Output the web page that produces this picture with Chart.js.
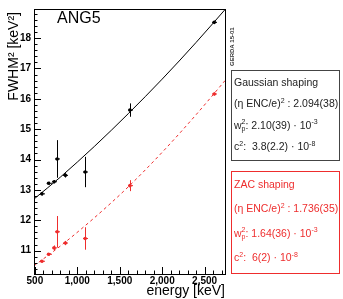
<!DOCTYPE html>
<html>
<head>
<meta charset="utf-8">
<script src="https://cdn.jsdelivr.net/npm/chart.js@4/dist/chart.umd.min.js"></script>
<style>
  html, body { margin: 0; padding: 0; background: #fff; }
  #wrap { position: relative; width: 343px; height: 299px; }
</style>
</head>
<body>
<div id="wrap"><canvas id="fwhmChart" width="343" height="299"></canvas></div>
<script>
// calibration lines (keV) and measured FWHM^2 (keV^2)
const energies = [583, 661, 727, 763, 860, 1093, 1620, 2614];
const gaussVals = [12.87, 13.22, 13.27, 14.02, 13.48, 13.59, 15.63, 18.52];
const gaussErr = [0.05, 0.05, 0.05, 0.62, 0.07, 0.5, 0.22, 0.05];
const zacVals = [10.65, 10.88, 11.09, 11.62, 11.25, 11.4, 13.14, 16.16];
const zacErr = [0.04, 0.04, 0.08, 0.52, 0.07, 0.37, 0.18, 0.05];

// fit curves
const fitE = [490, 800, 1200, 1600, 2000, 2400, 2740];
const gaussFit = [12.7, 13.42, 14.43, 15.51, 16.65, 17.86, 18.94];
const zacFit = [10.5, 11.15, 12.08, 13.1, 14.24, 15.48, 16.6];

const xTicks = [500, 1000, 1500, 2000, 2500];
const yTicks = [11, 12, 13, 14, 15, 16, 17, 18];

const RED = 'rgb(238,45,45)';
const FONT = '"Liberation Sans", Arial, sans-serif';

function pts(xs, ys) {
  return xs.map((x, i) => ({ x: x, y: ys[i] }));
}

// draw text with sup/sub pieces
function drawRuns(ctx, x, y, runs, size, color) {
  ctx.fillStyle = color;
  ctx.textBaseline = 'alphabetic';
  ctx.textAlign = 'left';
  runs.forEach(r => {
    if (!r.s) {
      ctx.font = size + 'px ' + FONT;
      ctx.fillText(r.t, x, y);
      x += ctx.measureText(r.t).width;
    } else {
      const small = Math.round(size * 0.62);
      ctx.font = small + 'px ' + FONT;
      let w = 0;
      if (r.s === 'sup' || r.s === 'supsub') {
        ctx.fillText(r.t, x, y - size * 0.42);
        w = ctx.measureText(r.t).width;
      }
      if (r.s === 'sub' || r.s === 'supsub') {
        const t = r.s === 'sub' ? r.t : r.b;
        ctx.fillText(t, x, y + size * 0.22);
        w = Math.max(w, ctx.measureText(t).width);
      }
      x += w;
    }
  });
}

const errorBars = {
  id: 'errorBars',
  afterDatasetsDraw(chart) {
    const ctx = chart.ctx;
    const xs = chart.scales.x, ys = chart.scales.y;
    chart.data.datasets.forEach(ds => {
      if (!ds.err) return;
      ctx.save();
      ctx.strokeStyle = ds.borderColor;
      ctx.lineWidth = 1;
      ds.data.forEach((p, i) => {
        const px = Math.round(xs.getPixelForValue(p.x)) + 0.5;
        const y1 = ys.getPixelForValue(p.y - ds.err[i]);
        const y2 = ys.getPixelForValue(p.y + ds.err[i]);
        const yc = ys.getPixelForValue(p.y);
        ctx.beginPath();
        ctx.moveTo(px, y1); ctx.lineTo(px, y2);
        ctx.moveTo(px - 2.5, yc); ctx.lineTo(px + 2.5, yc);
        ctx.stroke();
      });
      ctx.restore();
    });
  }
};

const frame = {
  id: 'frame',
  afterDraw(chart) {
    const ctx = chart.ctx;
    const a = chart.chartArea;
    const xs = chart.scales.x, ys = chart.scales.y;
    ctx.save();
    ctx.strokeStyle = '#000';
    ctx.lineWidth = 1;
    ctx.strokeRect(Math.round(a.left) + 0.5, Math.round(a.top) + 0.5,
      Math.round(a.right - a.left), Math.round(a.bottom - a.top));

    // inward ticks, bottom axis
    ctx.beginPath();
    for (let v = 500; v <= 2700; v += 100) {
      const px = Math.round(xs.getPixelForValue(v)) + 0.5;
      const len = v % 500 === 0 ? 7 : 3.5;
      ctx.moveTo(px, a.bottom); ctx.lineTo(px, a.bottom - len);
    }
    // inward ticks, left axis
    for (let v = 10.4; v <= 18.9; v += 0.2) {
      const vv = Math.round(v * 10) / 10;
      const py = Math.round(ys.getPixelForValue(vv)) + 0.5;
      const len = Math.abs(vv - Math.round(vv)) < 0.01 ? 7 : 3.5;
      ctx.moveTo(a.left, py); ctx.lineTo(a.left + len, py);
    }
    ctx.stroke();

    // axis titles
    ctx.fillStyle = '#000';
    ctx.font = '14px ' + FONT;
    ctx.textAlign = 'right';
    ctx.textBaseline = 'alphabetic';
    ctx.fillText('energy [keV]', a.right, 295);
    ctx.save();
    ctx.translate(18, 12);
    ctx.rotate(-Math.PI / 2);
    ctx.textAlign = 'right';
    ctx.fillText('FWHM\u00B2 [keV\u00B2]', 0, 0);
    ctx.restore();

    ctx.font = '16px ' + FONT;
    ctx.textAlign = 'left';
    ctx.fillText('ANG5', 57, 23);

    ctx.save();
    ctx.translate(234, 66);
    ctx.rotate(-Math.PI / 2);
    ctx.font = 'bold 6px ' + FONT;
    ctx.fillStyle = '#333';
    ctx.fillText('GERDA 15-01', 0, 0);
    ctx.restore();

    // result boxes
    const boxes = [
      { top: 70, bottom: 160, color: '#444', text: '#222', lines: [
        [{ t: 'Gaussian shaping' }],
        [{ t: '(\u03B7 ENC/e)' }, { t: '2', s: 'sup' }, { t: ' : 2.094(38)' }],
        [{ t: 'w' }, { t: '2', s: 'supsub', b: 'p' }, { t: ': 2.10(39) \u00B7 10' }, { t: '-3', s: 'sup' }],
        [{ t: 'c' }, { t: '2', s: 'sup' }, { t: ':  3.8(2.2) \u00B7 10' }, { t: '-8', s: 'sup' }]
      ] },
      { top: 171, bottom: 273, color: RED, text: RED, lines: [
        [{ t: 'ZAC shaping' }],
        [{ t: '(\u03B7 ENC/e)' }, { t: '2', s: 'sup' }, { t: ' : 1.736(35)' }],
        [{ t: 'w' }, { t: '2', s: 'supsub', b: 'p' }, { t: ': 1.64(36) \u00B7 10' }, { t: '-3', s: 'sup' }],
        [{ t: 'c' }, { t: '2', s: 'sup' }, { t: ':  6(2) \u00B7 10' }, { t: '-8', s: 'sup' }]
      ] }
    ];
    boxes.forEach(b => {
      ctx.strokeStyle = b.color;
      ctx.strokeRect(231.5, b.top + 0.5, 108, b.bottom - b.top);
      const step = (b.bottom - b.top) / 4.2;
      b.lines.forEach((ln, i) => {
        drawRuns(ctx, 234, b.top + step * (i + 0.5) + 5, ln, 10.5, b.text);
      });
    });
    ctx.restore();
  }
};

const ctx = document.getElementById('fwhmChart').getContext('2d');
new Chart(ctx, {
  type: 'scatter',
  data: {
    datasets: [
      {
        type: 'line', label: 'Gaussian fit', data: pts(fitE, gaussFit),
        borderColor: '#000', borderWidth: 1, pointRadius: 0,
        cubicInterpolationMode: 'monotone', fill: false
      },
      {
        type: 'line', label: 'ZAC fit', data: pts(fitE, zacFit),
        borderColor: RED, borderWidth: 1, borderDash: [3, 3], pointRadius: 0,
        cubicInterpolationMode: 'monotone', fill: false
      },
      {
        label: 'Gaussian', data: pts(energies, gaussVals), err: gaussErr,
        borderColor: '#000', backgroundColor: '#000', pointRadius: 1.8, pointBorderWidth: 0
      },
      {
        label: 'ZAC', data: pts(energies, zacVals), err: zacErr,
        borderColor: RED, backgroundColor: RED, pointRadius: 1.8, pointBorderWidth: 0
      }
    ]
  },
  options: {
    responsive: false,
    animation: false,
    layout: { padding: { top: 3, right: 118, left: 0, bottom: 0 } },
    plugins: { legend: { display: false }, tooltip: { enabled: false } },
    scales: {
      x: {
        type: 'linear', min: 490, max: 2740,
        grid: { display: false, drawTicks: false }, border: { display: false },
        afterBuildTicks: s => { s.ticks = xTicks.map(v => ({ value: v })); },
        afterFit: s => { s.height = 25; },
        ticks: { color: '#000', padding: 1, maxRotation: 0, font: { family: FONT, size: 10, weight: 'bold' } }
      },
      y: {
        type: 'linear', min: 10.23, max: 18.96,
        grid: { display: false, drawTicks: false }, border: { display: false },
        afterBuildTicks: s => { s.ticks = yTicks.map(v => ({ value: v })); },
        afterFit: s => { s.width = 34; },
        ticks: { color: '#000', padding: 3, font: { family: FONT, size: 10, weight: 'bold' } }
      }
    }
  },
  plugins: [errorBars, frame]
});
</script>
</body>
</html>
